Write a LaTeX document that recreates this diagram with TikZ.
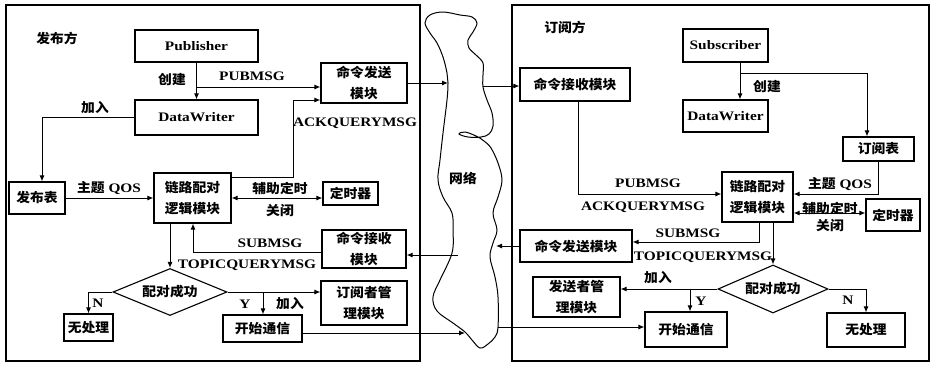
\documentclass[tikz,border=0pt]{standalone}
\usepackage{fontspec}
\setmainfont{Liberation Serif}[FakeStretch=1.18]
\newfontfamily\cjk{Noto Sans CJK SC}[FakeStretch=1.06]
\newcommand{\zh}[1]{{\cjk #1}}
\usetikzlibrary{shapes.geometric,arrows.meta}
\begin{document}
\begin{tikzpicture}[x=1pt,y=-1pt,
  every node/.style={font=\fontsize{13}{21}\selectfont\bfseries, inner sep=0pt, align=center},
  box/.style={draw, line width=1.1pt, rectangle},
  dia/.style={draw, line width=1.1pt, diamond, aspect=2.4},
  panel/.style={draw, line width=1.2pt},
  arr/.style={line width=1pt, -{Latex[length=6pt,width=5pt]}},
  arrb/.style={line width=1pt, {Latex[length=6pt,width=5pt]}-{Latex[length=6pt,width=5pt]}}]
\useasboundingbox (0,0) rectangle (931,365);
% panels
\draw[panel] (6,5) rectangle (420,361);
\draw[panel] (512,5) rectangle (929,361);
% network cloud
\draw[line width=1pt] plot[smooth cycle, tension=0.6] coordinates {
 (425,23) (430,15) (443,12) (460,15) (472,17) (477,23) (473,32) (468,40) (469,48) (476,55) (483,63) (483,75) (483,87) (487,100) (492,113) (493,126) (489,134) (481,137) (468,137) (459,134) (465,132) (476,136) (484,141) (491,148) (498,163) (502,180) (498,197) (493,213) (497,230) (493,243) (490,257) (495,277) (498,297) (498,327) (495,337) (488,344) (480,348) (472,340) (465,332) (453,323) (437,311) (433,297) (440,280) (452,253) (453,230) (452,213) (443,197) (438,180) (440,160) (443,133) (447,100) (448,83) (447,73) (443,57) (437,43) (430,33)};
\node (net) at (463,178) {\zh{网络}};

% ---------- left side ----------
\node (tL) at (57,38) {\zh{发布方}};
\node[box, minimum width=123, minimum height=32] (pub) at (196.5,46) {Publisher};
\node[box, minimum width=123, minimum height=35] (dwL) at (196.5,117.5) {DataWriter};
\node[box, minimum width=86, minimum height=40] (sendL) at (364,83) {\zh{命令发送}\\\zh{模块}};
\node[box, minimum width=56, minimum height=32] (pubtab) at (37,198) {\zh{发布表}};
\node[box, minimum width=77, minimum height=50] (linkL) at (192.5,198) {\zh{链路配对}\\\zh{逻辑模块}};
\node[box, minimum width=55, minimum height=23] (timerL) at (350.5,193.5) {\zh{定时器}};
\node[box, minimum width=84, minimum height=38] (recvL) at (364,249) {\zh{命令接收}\\\zh{模块}};
\node[dia, minimum width=114, minimum height=47] (dL) at (170,292) {\zh{配对成功}};
\node[box, minimum width=49, minimum height=27] (noneL) at (88.5,327.5) {\zh{无处理}};
\node[box, minimum width=86, minimum height=44] (mgrL) at (364,303) {\zh{订阅者管}\\\zh{理模块}};
\node[box, minimum width=79, minimum height=27] (startL) at (262.5,328.5) {\zh{开始通信}};

\coordinate (pj) at (196.5,87);
\coordinate (ackc) at (293,177);
\coordinate (ackt) at (293,100);
\coordinate (nL1) at (448,83);
\coordinate (nL2) at (458,255);
\coordinate (subc) at (193,252);
\coordinate (yb) at (263,292);
\coordinate (nL3) at (465,333);
\coordinate (tw) at (42,0);

\draw[arr] (pub) -- (dwL);
\draw[arr] (pj) -- (pj -| sendL.west);
\draw[arr] (dwL.west) -- (dwL.west -| tw) -- (tw |- pubtab.north);
\draw[arr] (pubtab) -- (linkL);
\draw[arr] (ackc -| linkL.east) -- (ackc) -- (ackt) -- (ackt -| sendL.west);
\draw[arrb] (linkL.east) -- (linkL.east -| timerL.west);
\draw[arr] (sendL.east) -- (nL1);
\draw[arr] (nL2) -- (nL2 -| recvL.east);
\draw[arr] (subc -| recvL.west) -- (subc) -- (subc |- linkL.south);
\draw[arr] (dL.north |- linkL.south) -- (dL.north);
\draw[arr] (dL.west) -| (noneL.north);
\draw[arr] (dL.east) -- (dL.east -| mgrL.west);
\draw[arr] (yb) -- (yb |- startL.north);
\draw[arr] (nL3 -| startL.east) -- (nL3);

\node at (172,80) {\zh{创建}};
\node at (252,76) {PUBMSG};
\node at (95,108) {\zh{加入}};
\node at (355,123) {ACKQUERYMSG};
\node at (109,188) {\zh{主题} QOS};
\node at (280,188) {\zh{辅助定时}};
\node at (280,211) {\zh{关闭}};
\node at (270,243) {SUBMSG};
\node at (247,265) {TOPICQUERYMSG};
\node at (98,303) {N};
\node at (245,304) {Y};
\node at (290,304) {\zh{加入}};

% ---------- right side ----------
\node (tR) at (565,27) {\zh{订阅方}};
\node[box, minimum width=85, minimum height=33] (sub) at (725.5,45.5) {Subscriber};
\node[box, minimum width=85, minimum height=32] (dwR) at (725.5,116) {DataWriter};
\node[box, minimum width=71, minimum height=24] (subtab) at (878.5,149) {\zh{订阅表}};
\node[box, minimum width=110, minimum height=33] (recvR) at (575,84.5) {\zh{命令接收模块}};
\node[box, minimum width=71, minimum height=50] (linkR) at (757.5,197) {\zh{链路配对}\\\zh{逻辑模块}};
\node[box, minimum width=54, minimum height=32] (timerR) at (893,215) {\zh{定时器}};
\node[box, minimum width=112, minimum height=32] (sendR) at (576,246) {\zh{命令发送模块}};
\node[dia, minimum width=110, minimum height=48] (dR) at (773,289) {\zh{配对成功}};
\node[box, minimum width=87, minimum height=40] (mgrR) at (576.5,297) {\zh{发送者管}\\\zh{理模块}};
\node[box, minimum width=82, minimum height=35] (startR) at (686,329.5) {\zh{开始通信}};
\node[box, minimum width=78, minimum height=34] (noneR) at (866,330) {\zh{无处理}};

\coordinate (sx) at (740,0);
\coordinate (sc) at (740,73);
\coordinate (sc2) at (867,73);
\coordinate (nR1) at (483,86);
\coordinate (rc) at (578,194);
\coordinate (qc) at (878,194);
\coordinate (tc) at (0,213);
\coordinate (sb) at (759,242);
\coordinate (nR2) at (496,246);
\coordinate (yr) at (690,289);
\coordinate (nR3) at (498,327);

\draw[arr] (sx |- sub.south) -- (sx |- dwR.north);
\draw[arr] (sc) -- (sc2) -- (sc2 |- subtab.north);
\draw[arr] (nR1) -- (nR1 -| recvR.west);
\draw[arr] (rc |- recvR.south) -- (rc) -- (rc -| linkR.west);
\draw[arr] (qc |- subtab.south) -- (qc) -- (qc -| linkR.east);
\draw[arrb] (linkR.east |- tc) -- (timerR.west |- tc);
\draw[arr] (sb |- linkR.south) -- (sb) -- (sb -| sendR.east);
\draw[arr] (sendR.west) -- (sendR.west -| nR2);
\draw[arr] (dR.north |- linkR.south) -- (dR.north);
\draw[arr] (dR.west) -- (dR.west -| mgrR.east);
\draw[arr] (yr) -- (yr |- startR.north);
\draw[arr] (dR.east) -| (noneR.north);
\draw[arr] (nR3) -- (nR3 -| startR.west);

\node at (767,87) {\zh{创建}};
\node at (648,183) {PUBMSG};
\node at (643,207) {ACKQUERYMSG};
\node at (840,184) {\zh{主题} QOS};
\node at (830,208) {\zh{辅助定时}};
\node at (830,226) {\zh{关闭}};
\node at (688,233) {SUBMSG};
\node at (703,257) {TOPICQUERYMSG};
\node at (658,278) {\zh{加入}};
\node at (701,301) {Y};
\node at (848,300) {N};
\end{tikzpicture}
\end{document}
